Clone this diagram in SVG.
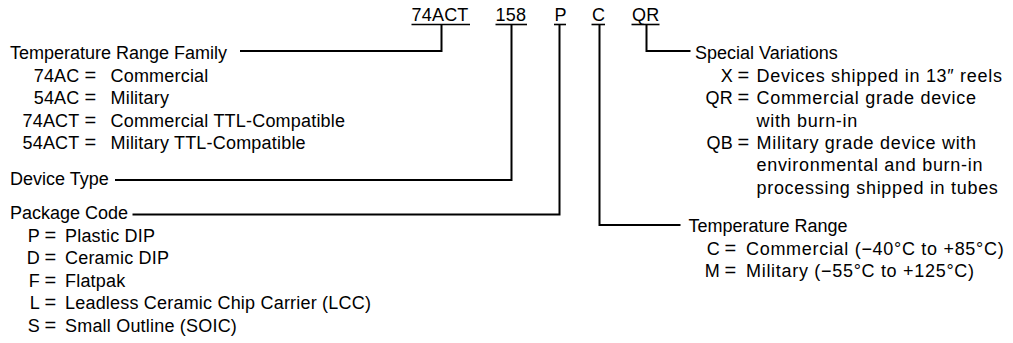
<svg xmlns="http://www.w3.org/2000/svg" width="1013" height="343" viewBox="0 0 1013 343">
<style>
.t{font-family:"Liberation Sans",Arial,Helvetica,sans-serif;font-size:18px;letter-spacing:0.2px;fill:#000}
.h{letter-spacing:0}
.w{letter-spacing:0.7px}
.q{font-size:20px;letter-spacing:0}
.e{text-anchor:end}
.ln{stroke:#000;stroke-width:2;fill:none;stroke-linecap:square}
.ul{stroke:#000;stroke-width:1.6;fill:none}
</style>
<rect width="1013" height="343" fill="#fff"/>
<g id="code-74ACT"><text class="t" x="411.5" y="21">74ACT</text><line class="ul" x1="411.5" y1="24.5" x2="470" y2="24.5"/></g>
<g id="code-158"><text class="t" x="495.5" y="21">158</text><line class="ul" x1="495.5" y1="24.5" x2="527" y2="24.5"/></g>
<g id="code-P"><text class="t" x="554.5" y="21">P</text><line class="ul" x1="554" y1="24.5" x2="566" y2="24.5"/></g>
<g id="code-C"><text class="t" x="592" y="21">C</text><line class="ul" x1="591.5" y1="24.5" x2="605" y2="24.5"/></g>
<g id="code-QR"><text class="t" x="632" y="21">QR</text><line class="ul" x1="631.5" y1="24.5" x2="659.5" y2="24.5"/></g>

<g id="temp-range-family">
<text class="t h" x="10" y="58.5">Temperature Range Family</text>
<text class="t e" x="79.5" y="81.5">74AC</text><text class="t q" x="84.5" y="81.5">=</text><text class="t" x="110.5" y="81.5">Commercial</text>
<text class="t e" x="79.5" y="104">54AC</text><text class="t q" x="84.5" y="104">=</text><text class="t" x="110.5" y="104">Military</text>
<text class="t e" x="79.5" y="126.5">74ACT</text><text class="t q" x="84.5" y="126.5">=</text><text class="t" x="110.5" y="126.5">Commercial TTL-Compatible</text>
<text class="t e" x="79.5" y="149">54ACT</text><text class="t q" x="84.5" y="149">=</text><text class="t" x="110.5" y="149">Military TTL-Compatible</text>
</g>

<g id="device-type"><text class="t h" x="10" y="184.5">Device Type</text></g>

<g id="package-code">
<text class="t h" x="10" y="219">Package Code</text>
<text class="t e" x="40" y="241.5">P</text><text class="t q" x="44.5" y="241.5">=</text><text class="t" x="65" y="241.5">Plastic DIP</text>
<text class="t e" x="40" y="264">D</text><text class="t q" x="44.5" y="264">=</text><text class="t" x="65" y="264">Ceramic DIP</text>
<text class="t e" x="40" y="286.5">F</text><text class="t q" x="44.5" y="286.5">=</text><text class="t" x="65" y="286.5">Flatpak</text>
<text class="t e" x="40" y="309">L</text><text class="t q" x="44.5" y="309">=</text><text class="t" x="65" y="309">Leadless Ceramic Chip Carrier (LCC)</text>
<text class="t e" x="40" y="331.5">S</text><text class="t q" x="44.5" y="331.5">=</text><text class="t" x="65" y="331.5">Small Outline (SOIC)</text>
</g>

<g id="special-variations">
<text class="t h" x="695" y="58.5">Special Variations</text>
<text class="t e" x="733" y="81.5">X</text><text class="t q" x="737.5" y="81.5">=</text><text class="t w" x="756.5" y="81.5">Devices shipped in 13″ reels</text>
<text class="t e" x="733" y="104">QR</text><text class="t q" x="737.5" y="104">=</text><text class="t w" x="756.5" y="104">Commercial grade device</text>
<text class="t w" x="756.5" y="126.5">with burn-in</text>
<text class="t e" x="733" y="149">QB</text><text class="t q" x="737.5" y="149">=</text><text class="t w" x="756.5" y="149">Military grade device with</text>
<text class="t w" x="756.5" y="171">environmental and burn-in</text>
<text class="t w" x="756.5" y="193.5">processing shipped in tubes</text>
</g>

<g id="temperature-range">
<text class="t h" x="688.5" y="231.5">Temperature Range</text>
<text class="t e" x="720" y="254.5">C</text><text class="t q" x="724.5" y="254.5">=</text><text class="t w" x="746" y="254.5">Commercial (−40°C to +85°C)</text>
<text class="t e" x="720" y="277">M</text><text class="t q" x="724.5" y="277">=</text><text class="t w" x="746" y="277">Military (−55°C to +125°C)</text>
</g>

<g id="connectors">
<polyline class="ln" points="241,51 441.5,51 441.5,25"/>
<polyline class="ln" points="116,180 511.5,180 511.5,25"/>
<polyline class="ln" points="133.5,214.5 559.5,214.5 559.5,25"/>
<polyline class="ln" points="599.5,25 599.5,225 679.5,225"/>
<polyline class="ln" points="646.5,25 646.5,51 689.5,51"/>
</g>
</svg>
